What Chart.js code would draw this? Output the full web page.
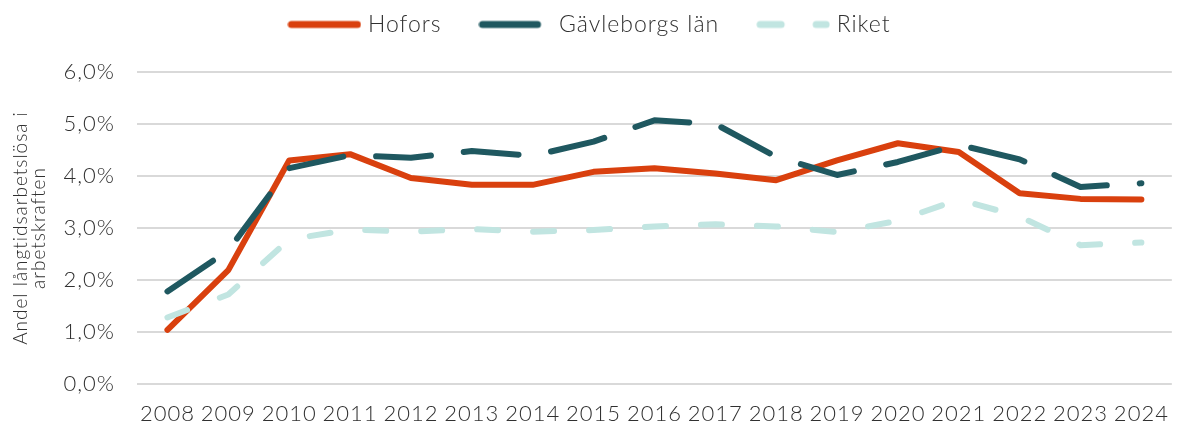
<!DOCTYPE html>
<html lang="sv">
<head>
<meta charset="utf-8">
<script src="https://cdn.jsdelivr.net/npm/chart.js"></script>
<style>
  html, body { margin: 0; padding: 0; background: #fff; }
  #wrap { width: 1186px; height: 423px; }
</style>
</head>
<body>
<div id="wrap"><canvas id="ltChart" width="1186" height="423"></canvas></div>
<script>
// år (x-axel)
const YEARS = ['2008', '2009', '2010', '2011', '2012', '2013', '2014', '2015', '2016',
  '2017', '2018', '2019', '2020', '2021', '2022', '2023', '2024'];

// andel långtidsarbetslösa, procent
const HOFORS = [1.04, 2.19, 4.30, 4.42, 3.96, 3.83, 3.83, 4.08, 4.15, 4.05, 3.92, 4.30, 4.63, 4.46, 3.67, 3.56, 3.55];
const GAVLEBORG = [1.78, 2.57, 4.15, 4.40, 4.35, 4.48, 4.39, 4.66, 5.07, 5.00, 4.37, 4.02, 4.27, 4.60, 4.32, 3.79, 3.86];
const RIKET = [1.28, 1.72, 2.78, 2.97, 2.93, 2.98, 2.93, 2.96, 3.03, 3.07, 3.03, 2.92, 3.14, 3.55, 3.22, 2.67, 2.72];

const Y_TICKS = [0, 1, 2, 3, 4, 5, 6];

const TEXT_COLOR = '#303030';
const GRID_COLOR = '#d9d9d9';
const FONT = 'Lato, "Open Sans", sans-serif';

const LEGEND_IMG_W = 74;
const LEGEND_BOX_W = 64;

function fmtPct(v) {
  return Number(v).toFixed(1).replace('.', ',') + '%';
}

// liten bild av linjen (med streckmönster) till legenden
function legendLineImage(color, dash) {
  const c = document.createElement('canvas');
  c.width = LEGEND_IMG_W;
  c.height = 10;
  const g = c.getContext('2d');
  g.strokeStyle = color;
  g.lineWidth = 7;
  g.lineCap = 'round';
  g.setLineDash(dash || []);
  g.beginPath();
  g.moveTo(4, 5);
  g.lineTo(LEGEND_IMG_W - 4, 5);
  g.stroke();
  return c;
}

// legenden får fast höjd så att ritytan hamnar rätt
const legendHeightPlugin = {
  id: 'legendHeight',
  beforeInit(chart) {
    const legend = chart.legend;
    if (!legend) return;
    const origFit = legend.fit;
    legend.fit = function () {
      origFit.call(this);
      this.height = 72;
    };
  },
};

// originalets typsnitt är bredare än Lato -> lite extra teckenavstånd
// (sätts om varje gång, canvas-storleksändring nollställer kontexten)
const letterSpacingPlugin = {
  id: 'letterSpacing',
  beforeUpdate(chart) { chart.ctx.letterSpacing = '1px'; },
  beforeLayout(chart) { chart.ctx.letterSpacing = '1px'; },
  beforeDraw(chart) { chart.ctx.letterSpacing = '1px'; },
};

const ctx = document.getElementById('ltChart').getContext('2d');

new Chart(ctx, {
  type: 'line',
  data: {
    labels: YEARS,
    datasets: [
      {
        label: 'Hofors',
        data: HOFORS,
        borderColor: '#d9400e',
        backgroundColor: '#d9400e',
        borderWidth: 6,
        order: 3,
      },
      {
        label: 'Gävleborgs län',
        data: GAVLEBORG,
        borderColor: '#1f5860',
        backgroundColor: '#1f5860',
        borderWidth: 6,
        borderDash: [55, 33],
        order: 2,
      },
      {
        label: 'Riket',
        data: RIKET,
        borderColor: '#c1e5e1',
        backgroundColor: '#c1e5e1',
        borderWidth: 6,
        borderDash: [21, 35],
        order: 1,
      },
    ],
  },
  options: {
    responsive: false,
    animation: false,
    devicePixelRatio: 1,
    layout: { padding: { left: 0, right: 3, top: 0, bottom: 0 } },
    elements: {
      point: { radius: 0, hoverRadius: 0 },
      line: {
        tension: 0,
        fill: false,
        borderCapStyle: 'round',
        borderJoinStyle: 'round',
      },
    },
    plugins: {
      tooltip: { enabled: false },
      legend: {
        position: 'top',
        align: 'center',
        labels: {
          usePointStyle: true,
          pointStyleWidth: LEGEND_BOX_W,
          boxHeight: 22,
          padding: 13,
          color: TEXT_COLOR,
          font: { family: FONT, size: 23, weight: '300' },
          sort: (a, b) => a.datasetIndex - b.datasetIndex,
          generateLabels(chart) {
            const items = Chart.defaults.plugins.legend.labels.generateLabels(chart);
            items.forEach((it) => {
              const ds = chart.data.datasets[it.datasetIndex];
              it.pointStyle = legendLineImage(ds.borderColor, ds.borderDash);
              if (it.datasetIndex < 2) it.text = it.text + '    ';
            });
            return items;
          },
        },
      },
    },
    scales: {
      x: {
        offset: true,
        grid: { display: false, drawTicks: false, offset: true },
        border: { display: false },
        ticks: {
          color: TEXT_COLOR,
          padding: 17,
          maxRotation: 0,
          autoSkip: false,
          font: { family: FONT, size: 22, weight: '300' },
        },
        afterFit(scale) { scale.height = 39; },
      },
      y: {
        min: 0,
        max: 6,
        afterBuildTicks(scale) {
          scale.ticks = Y_TICKS.map((v) => ({ value: v }));
        },
        grid: { color: GRID_COLOR, lineWidth: 2, drawTicks: false },
        border: { display: false },
        ticks: {
          color: TEXT_COLOR,
          padding: 22,
          font: { family: FONT, size: 22, weight: '300' },
          callback: (v) => fmtPct(v),
        },
        title: {
          display: true,
          text: ['Andel långtidsarbetslösa i', 'arbetskraften'],
          color: TEXT_COLOR,
          font: { family: FONT, size: 19, weight: '300', lineHeight: 0.95 },
          padding: { top: 12, bottom: 0 },
        },
        afterFit(scale) { scale.width = 137; },
      },
    },
  },
  plugins: [legendHeightPlugin, letterSpacingPlugin],
});
</script>
</body>
</html>
